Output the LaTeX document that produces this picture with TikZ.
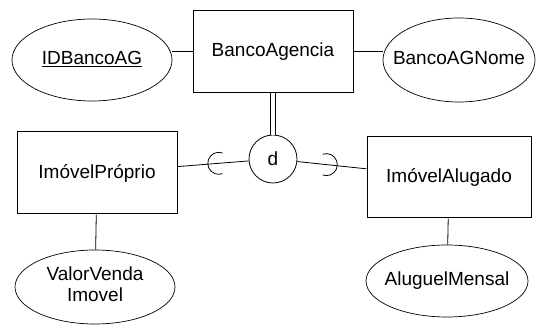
\documentclass[tikz,border=0pt]{standalone}
\usepackage{fontspec}
\setmainfont{Liberation Sans}
\usetikzlibrary{shapes.geometric}

% attribute text, kept out of the ellipse size
\newcommand{\attrtext}[1]{\makebox[0pt]{\begin{tabular}{@{}c@{}}#1\end{tabular}}}

\begin{document}
\begin{tikzpicture}[x=1pt,y=1pt,
  every node/.style={font=\fontsize{19}{21}\selectfont},
  entity/.style={draw,line width=1pt,minimum width=160pt,minimum height=82pt,inner sep=0pt},
  attrib/.style={draw,ellipse,line width=0.7pt,minimum width=160pt,minimum height=82pt,inner sep=0pt},
  disj/.style={draw,circle,line width=0.8pt,minimum size=48pt,inner sep=0pt}]
\useasboundingbox (0,0) rectangle (537,326);
% entities
\node[entity] (banco) at (273,274.5) {BancoAgencia};
\node[entity] (proprio) at (97,153) {ImóvelPróprio};
\node[entity,minimum width=164pt,minimum height=81pt] (alugado) at (449,148.5) {ImóvelAlugado};
% attributes
\node[attrib] (idbanco) at (92,266) {\attrtext{\underline{IDBancoAG}}};
\node[attrib,minimum width=152pt,minimum height=84pt] (nome) at (459,266) {\attrtext{BancoAGNome}};
\node[attrib,minimum height=74pt] (venda) at (95,39) {\attrtext{ValorVenda\\Imovel}};
\node[attrib,minimum width=162pt,minimum height=72pt] (aluguel) at (447,45) {\attrtext{AluguelMensal}};
% disjoint specialization
\node[disj] (d) at (273,167) {d};
\draw[line width=0.8pt] (banco.west) -- (banco.west -| idbanco.east);
\draw[line width=0.8pt] (banco.east) -- (banco.east -| nome.west);
\draw[line width=0.8pt,double,double distance=4pt] (banco) -- (d);
\draw[line width=0.8pt] (d) -- coordinate[pos=0.42] (subp) (proprio);
\draw[line width=0.8pt] (d) -- coordinate[pos=0.42] (suba) (alugado);
\draw[line width=0.8pt] (subp) ++(70:11) arc[start angle=70,end angle=290,radius=11];
\draw[line width=0.8pt] (suba) ++(110:11) arc[start angle=110,end angle=-110,radius=11];
\draw[line width=0.8pt] (proprio) -- (venda);
\draw[line width=0.8pt] (alugado) -- (aluguel);
\end{tikzpicture}
\end{document}
